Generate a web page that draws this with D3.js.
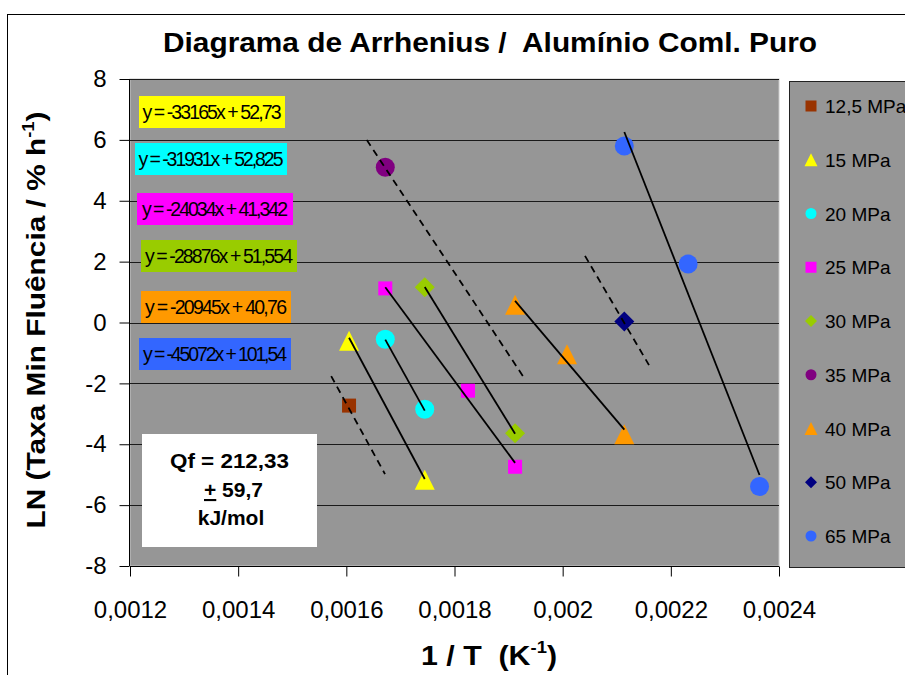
<!DOCTYPE html>
<html><head><meta charset="utf-8">
<script src="https://cdn.jsdelivr.net/npm/d3@7"></script>
<style>html,body{margin:0;padding:0;background:#fff;overflow:hidden} text{white-space:pre}</style>
</head><body>
<svg id="c" width="905" height="675"></svg>
<script>
// ---------- data ----------
const seriesNames = ["12,5 MPa","15 MPa","20 MPa","25 MPa","30 MPa","35 MPa","40 MPa","50 MPa","65 MPa"];
const seriesColors = ["#993300","#FFFF00","#00FFFF","#FF00FF","#99CC00","#800080","#FF9900","#000080","#3366FF"];
const seriesShapes = ["square","triangle","circle","square","diamond","circle","triangle","diamond","circle"];
const xValues = [
  [0.001605],
  [0.001605, 0.001745],
  [0.001672, 0.001745],
  [0.001672, 0.001825, 0.001912],
  [0.001745, 0.001912],
  [0.001672],
  [0.001912, 0.002008, 0.002114],
  [0.002114],
  [0.002114, 0.002232, 0.002364]
];
const yValues = [
  [-2.73],
  [-0.6, -5.17],
  [-0.55, -2.85],
  [1.12, -2.24, -4.74],
  [1.16, -3.64],
  [5.1],
  [0.58, -1.04, -3.67],
  [0.03],
  [5.8, 1.92, -5.39]
];
// linear trendlines (y = slope*x + intercept), null where none
const trendSlopes = [null, -33165, -31931, -24034, -28876, null, -20945, null, -45072];
const trendIntercepts = [null, 52.73, 52.825, 41.342, 51.554, null, 40.76, null, 101.54];
// dashed guide lines through single points
const guideX = [[0.001572, 0.0016715], [0.0016377, 0.0019272], [0.0020413, 0.0021596]];
const guideY = [[-1.76, -4.98], [6.0, -1.78], [2.19, -1.4]];
const xTicks = [0.0012, 0.0014, 0.0016, 0.0018, 0.002, 0.0022, 0.0024];
const xTickLabels = ["0,0012","0,0014","0,0016","0,0018","0,002","0,0022","0,0024"];
const yTicks = [-8, -6, -4, -2, 0, 2, 4, 6, 8];
const yTickLabels = ["-8","-6","-4","-2","0","2","4","6","8"];
const qfLines = ["Qf = 212,33", "59,7", "kJ/mol"];

// ---------- layout ----------
const plot = {l:130, r:779, t:79, b:566};
const BG = "#969696";
const FONT = "'Liberation Sans', Arial, sans-serif";
const eqBoxes = [
  {s:1, x:139, y:96,  w:146, h:32, tl:139},
  {s:2, x:135, y:143, w:152, h:32, tl:145},
  {s:3, x:137, y:193, w:156, h:32, tl:146},
  {s:4, x:141, y:240, w:156, h:32, tl:148},
  {s:6, x:141, y:291, w:150, h:32, tl:142},
  {s:8, x:139, y:338, w:152, h:32, tl:144}
];

const svg = d3.select("#c");
const x = d3.scaleLinear().domain([0.0012, 0.0024]).range([plot.l, plot.r]);
const y = d3.scaleLinear().domain([-8, 8]).range([plot.b, plot.t]);

function shapePath(type, s) {
  const h = s / 2;
  if (type === "square") return `M${-h},${-h}H${h}V${h}H${-h}Z`;
  if (type === "triangle") return `M0,${-h}L${h},${h}L${-h},${h}Z`;
  if (type === "diamond") return `M0,${-h}L${h},0L0,${h}L${-h},0Z`;
  return d3.symbol(d3.symbolCircle, Math.PI * h * h)();
}
const markerSize = {square:14, triangle:20, circle:19, diamond:20};
const legendSize = {square:11, triangle:13, circle:11, diamond:12};

// outer chart border
svg.append("rect").attr("x", 7.5).attr("y", 14.5).attr("width", 910).attr("height", 680)
  .attr("fill", "#fff").attr("stroke", "#000").attr("stroke-width", 1);

// plot area
svg.append("rect").attr("x", plot.l).attr("y", plot.t).attr("width", plot.r - plot.l).attr("height", plot.b - plot.t)
  .attr("fill", BG).attr("stroke", "#c8c8c8").attr("stroke-width", 1);

// gridlines
svg.append("g").selectAll("line").data(yTicks).join("line")
  .attr("x1", plot.l).attr("x2", plot.r)
  .attr("y1", d => Math.round(y(d)) + 0.5).attr("y2", d => Math.round(y(d)) + 0.5)
  .attr("stroke", "#1a1a1a").attr("stroke-width", 1);

// axes
const yAxis = d3.axisLeft(y).tickValues(yTicks).tickFormat((d, i) => yTickLabels[i]).tickSize(10).tickPadding(13);
const gy = svg.append("g").attr("transform", `translate(${plot.l - 0.5},0)`).call(yAxis);
const xAxis = d3.axisBottom(x).tickValues(xTicks).tickFormat((d, i) => xTickLabels[i]).tickSize(10).tickPadding(24);
const gx = svg.append("g").attr("transform", `translate(0,${plot.b + 0.5})`).call(xAxis);
[gx, gy].forEach(g => {
  g.select(".domain").attr("stroke", "#000").attr("stroke-width", 1);
  g.selectAll(".tick line").attr("stroke", "#000");
  g.selectAll(".tick text").attr("font-family", FONT).attr("font-size", 24).attr("fill", "#000");
});
gx.select(".domain").attr("d", `M${plot.l},0H${plot.r}`);
gy.select(".domain").attr("d", `M0,${plot.t}V${plot.b}`);

// equation boxes
const fmtNum = v => String(v).replace(".", ",");
eqBoxes.forEach(b => {
  const g = svg.append("g");
  g.append("rect").attr("x", b.x).attr("y", b.y).attr("width", b.w).attr("height", b.h)
    .attr("fill", seriesColors[b.s]);
  g.append("text").attr("x", b.x + b.w / 2).attr("y", b.y + b.h / 2 + 7)
    .attr("text-anchor", "middle").attr("font-family", FONT).attr("font-size", 19.5)
    .attr("textLength", b.tl).attr("lengthAdjust", "spacing")
    .text(`y = ${trendSlopes[b.s]}x + ${fmtNum(trendIntercepts[b.s])}`);
});

// Qf box
const qg = svg.append("g");
qg.append("rect").attr("x", 142).attr("y", 434).attr("width", 175).attr("height", 113).attr("fill", "#fff");
qg.append("text").attr("x", 229.5).attr("y", 468).attr("text-anchor", "middle")
  .attr("font-family", FONT).attr("font-weight", "bold").attr("font-size", 21)
  .attr("textLength", 119).attr("lengthAdjust", "spacingAndGlyphs").text(qfLines[0]);
const t2 = qg.append("text").attr("x", 233.5).attr("y", 497).attr("text-anchor", "middle")
  .attr("font-family", FONT).attr("font-weight", "bold").attr("font-size", 21);
t2.append("tspan").attr("text-decoration", "underline").text("+");
t2.append("tspan").text(" " + qfLines[1]);
qg.append("text").attr("x", 231).attr("y", 525).attr("text-anchor", "middle")
  .attr("font-family", FONT).attr("font-weight", "bold").attr("font-size", 21).text(qfLines[2]);

// markers
seriesNames.forEach((name, i) => {
  svg.append("g").selectAll("path").data(xValues[i].map((v, j) => [v, yValues[i][j]])).join("path")
    .attr("transform", d => `translate(${x(d[0])},${y(d[1])})`)
    .attr("d", shapePath(seriesShapes[i], markerSize[seriesShapes[i]]))
    .attr("fill", seriesColors[i]);
});

// trendlines
const line = d3.line().x(d => x(d[0])).y(d => y(d[1]));
seriesNames.forEach((name, i) => {
  if (trendSlopes[i] === null) return;
  const [x0, x1] = d3.extent(xValues[i]);
  const pts = [x0, x1].map(v => [v, trendSlopes[i] * v + trendIntercepts[i]]);
  svg.append("path").attr("d", line(pts)).attr("fill", "none").attr("stroke", "#000").attr("stroke-width", 1.8);
});
// dashed guides
guideX.forEach((gxv, k) => {
  const pts = gxv.map((v, j) => [v, guideY[k][j]]);
  svg.append("path").attr("d", line(pts)).attr("fill", "none").attr("stroke", "#000")
    .attr("stroke-width", 1.8).attr("stroke-dasharray", "7,5");
});

// legend
const lg = svg.append("g");
lg.append("rect").attr("x", 789.5).attr("y", 81.5).attr("width", 130).attr("height", 486)
  .attr("fill", BG).attr("stroke", "#222").attr("stroke-width", 1);
seriesNames.forEach((name, i) => {
  const cy = 106 + i * 53.75;
  lg.append("path").attr("transform", `translate(811,${cy})`)
    .attr("d", shapePath(seriesShapes[i], legendSize[seriesShapes[i]])).attr("fill", seriesColors[i]);
  lg.append("text").attr("x", 825).attr("y", cy + 7).attr("font-family", FONT).attr("font-size", 19)
    .attr("fill", "#000").text(name);
});

// title
svg.append("text").attr("x", 490).attr("y", 52).attr("text-anchor", "middle")
  .attr("font-family", FONT).attr("font-weight", "bold").attr("font-size", 28)
  .attr("textLength", 654).attr("lengthAdjust", "spacingAndGlyphs")
  .text("Diagrama de Arrhenius /  Alumínio Coml. Puro");

// y axis title
const yt = svg.append("text").attr("transform", "translate(45,320) rotate(-90)").attr("text-anchor", "middle")
  .attr("font-family", FONT).attr("font-weight", "bold").attr("font-size", 26)
  .attr("textLength", 417).attr("lengthAdjust", "spacingAndGlyphs");
yt.append("tspan").text("LN (Taxa Min Fluência / % h");
yt.append("tspan").attr("font-size", 16).attr("dy", -11).text("-1");
yt.append("tspan").attr("dy", 11).text(")");

// x axis title
const xt = svg.append("text").attr("x", 489).attr("y", 665).attr("text-anchor", "middle")
  .attr("font-family", FONT).attr("font-weight", "bold").attr("font-size", 28)
  .attr("textLength", 136).attr("lengthAdjust", "spacingAndGlyphs");
xt.append("tspan").text("1 / T  (K");
xt.append("tspan").attr("font-size", 17).attr("dy", -12).text("-1");
xt.append("tspan").attr("dy", 12).text(")");
</script>
</body></html>
